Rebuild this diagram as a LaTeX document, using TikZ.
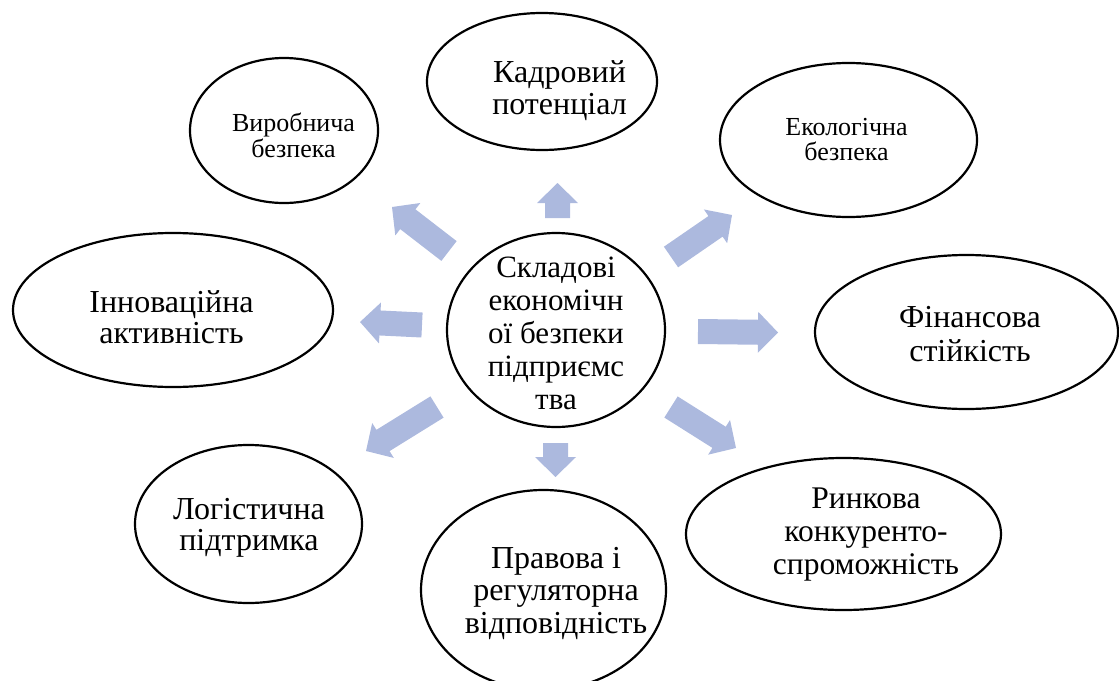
\documentclass[tikz,border=0pt]{standalone}
\usepackage{fontspec}
\setmainfont{Liberation Serif}
\usetikzlibrary{shapes.geometric,calc}
\definecolor{arrowblue}{RGB}{172,185,222}

% block arrow from coordinate #1 (tail) to coordinate #2 (tip)
\newcommand{\blockarrow}[2]{%
  \coordinate (#1-h) at ($(#2)!20pt!(#1)$);
  \fill[arrowblue]
    ($(#1)!12.5pt!90:(#2)$) -- ($(#1-h)!12.5pt!90:(#2)$) --
    ($(#1-h)!20.5pt!90:(#2)$) -- (#2) --
    ($(#1-h)!20.5pt!-90:(#2)$) -- ($(#1-h)!12.5pt!-90:(#2)$) --
    ($(#1)!12.5pt!-90:(#2)$) -- cycle;}

\tikzset{
  bubble/.style={draw=black, line width=2.2pt, ellipse, inner sep=0pt},
  lbl/.style={align=center, inner sep=0pt, text=black},
  big/.style={lbl, font=\fontsize{32}{33}\selectfont},
  small/.style={lbl, font=\fontsize{26}{26}\selectfont}
}

\begin{document}
\begin{tikzpicture}[x=1pt, y=-1pt]
\useasboundingbox (0,0) rectangle (1119,680);

% ellipses
\node[bubble, minimum width=218pt, minimum height=194pt] (core) at (556,330) {};
\node[bubble, minimum width=230pt, minimum height=137pt] (kad) at (542,81.5) {};
\node[bubble, minimum width=188pt, minimum height=145pt] (vyr) at (284,130.5) {};
\node[bubble, minimum width=257pt, minimum height=154pt] (eko) at (848.5,140) {};
\node[bubble, minimum width=320pt, minimum height=154pt] (inn) at (173,310) {};
\node[bubble, minimum width=303pt, minimum height=154pt] (fin) at (966.5,332) {};
\node[bubble, minimum width=227pt, minimum height=158pt] (log) at (248.5,524) {};
\node[bubble, minimum width=245pt, minimum height=200pt] (prav) at (543.5,590) {};
\node[bubble, minimum width=315pt, minimum height=152pt] (rynk) at (843.5,534) {};

% labels
\node[big, font=\fontsize{31}{33}\selectfont] (core-t) at (556,333) {Складові\\економічн\\ої безпеки\\підприємс\\тва};
\node[big, font=\fontsize{32}{32}\selectfont] (kad-t) at (559.5,91) {Кадровий\\потенціал};
\node[small] (vyr-t) at (293.5,135) {Виробнича\\безпека};
\node[small, font=\fontsize{26}{25}\selectfont] (eko-t) at (846.5,140) {Екологічна\\безпека};
\node[big, font=\fontsize{32}{31}\selectfont] (inn-t) at (171.5,317.5) {Інноваційна\\активність};
\node[big, font=\fontsize{32}{34}\selectfont] (fin-t) at (970,334.5) {Фінансова\\стійкість};
\node[big, font=\fontsize{32}{31}\selectfont] (log-t) at (249,527.5) {Логістична\\підтримка};
\node[big, font=\fontsize{32}{32.5}\selectfont] (prav-t) at (556,593) {Правова і\\регуляторна\\відповідність};
\node[big, font=\fontsize{31.5}{33}\selectfont] (rynk-t) at (866,535) {Ринкова\\конкуренто-\\спроможність};

% arrow tails and tips
\coordinate (a1) at (557.5,218); \coordinate (b1) at (557.5,183);
\coordinate (a2) at (555.5,443); \coordinate (b2) at (555.5,477);
\coordinate (a3) at (698,331.5); \coordinate (b3) at (778,332.5);
\coordinate (a4) at (422,325);   \coordinate (b4) at (360,322);
\coordinate (a5) at (449,251);   \coordinate (b5) at (392,207);
\coordinate (a6) at (671,257);   \coordinate (b6) at (732,215);
\coordinate (a7) at (437,407);   \coordinate (b7) at (366,451);
\coordinate (a8) at (671,407);   \coordinate (b8) at (736,448);

\blockarrow{a1}{b1}
\blockarrow{a2}{b2}
\blockarrow{a3}{b3}
\blockarrow{a4}{b4}
\blockarrow{a5}{b5}
\blockarrow{a6}{b6}
\blockarrow{a7}{b7}
\blockarrow{a8}{b8}
\end{tikzpicture}
\end{document}
